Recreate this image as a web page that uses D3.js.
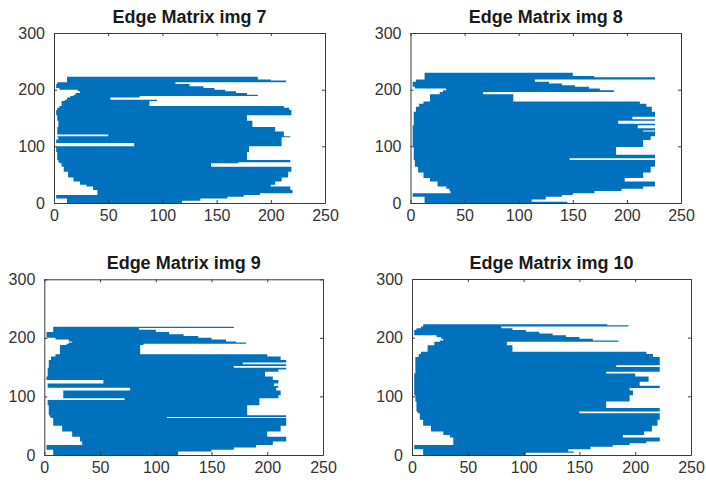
<!DOCTYPE html>
<html>
<head>
<meta charset="utf-8">
<script src="https://cdn.jsdelivr.net/npm/d3@7"></script>
<style>
  html, body { margin: 0; padding: 0; background: #ffffff; }
  svg { display: block; font-family: "Liberation Sans", Arial, Helvetica, sans-serif; }
</style>
</head>
<body>
<svg id="chart" width="706" height="487"></svg>
<script>
// ---------------- DATA ----------------
const titles = ["Edge Matrix img 7", "Edge Matrix img 8", "Edge Matrix img 9", "Edge Matrix img 10"];
const xTicks = [0, 50, 100, 150, 200, 250];
const yTicks = [0, 100, 200, 300];

// Each image: band boundaries (row values, top -> bottom), and the
// left / right edge column of each band (band i spans Y[i]..Y[i+1]).
const img7Y = [223,218,216,213,210,206,203,200,197,194,191,189,186,182,180,171,168,164,155,145,134,126,121,118,116,112,106,100,90,76,72,70,64,55,45,38,32,29,23,17,14,11,8,4,0];
const img7L = [12,12,12,3,2,2,5,22,24,20,18,15,12,10,7,5,3,2,3,4,3,3,50,3,4,2,74,2,3,4,5,7,9,13,18,24,30,36,40,40,2,2,12,12];
const img7R = [188,200,214,112,125,138,148,158,168,178,188,79,52,95,88,212,217,219,178,183,204,212,212,218,210,210,210,180,178,218,170,145,219,216,210,204,200,218,220,190,175,160,135,118];

const img8Y = [230,224,222,218,214,211,208,205,202,199,196,192,179,175,170,161,152,148,145,140,137,132,128,126,118,111,99,85,79,76,74,64,54,44,38,29,25,21,17,14,11,6,2,0];
const img8L = [13,13,13,5,2,2,2,4,33,30,27,18,12,8,5,3,3,3,3,3,2,2,2,2,2,2,3,3,3,4,4,7,12,18,25,33,36,37,2,2,13,13,13];
const img8R = [150,170,226,115,128,140,152,165,175,188,67,95,212,218,223,226,205,226,192,226,210,226,215,226,222,215,190,226,147,226,226,222,215,198,226,215,195,170,150,140,125,112,145];

const img9Y = [219,217,214,210,206,203,200,197,194,192,190,188,172,168,162,158,155,152,149,146,142,134,128,122,118,115,110,102,97,94,85,68,65,63,50,40,31,23,17,13,9,6,0];
const img9L = [8,8,8,2,2,2,10,22,25,22,20,14,10,6,4,4,4,4,3,3,3,2,53,3,3,77,17,17,72,3,4,5,6,8,16,25,32,34,2,2,8,8];
const img9R = [170,85,100,112,125,138,150,163,172,181,89,86,200,212,217,178,217,170,217,210,198,205,210,206,210,208,212,210,193,193,182,217,110,217,212,200,217,205,190,170,150,120];

const img10Y = [223,221,219,216,213,210,207,204,201,198,195,193,187,176,172,167,153,150,147,142,139,134,125,118,114,110,102,91,80,74,71,60,50,40,34,30,23,20,17,14,10,6,4,0];
const img10L = [10,10,8,4,2,2,2,22,26,28,25,20,14,8,6,3,3,3,3,3,2,2,2,2,2,2,3,4,4,5,7,10,17,28,34,37,37,37,2,2,10,10,10];
const img10R = [175,194,80,90,102,114,126,138,150,162,185,85,90,210,216,222,183,222,222,174,200,212,204,222,195,198,195,174,222,150,222,220,215,208,189,222,210,195,180,160,140,145,102];

const seriesY = [img7Y, img8Y, img9Y, img10Y];
const seriesL = [img7L, img8L, img9L, img10L];
const seriesR = [img7R, img8R, img9R, img10R];

// ---------------- LAYOUT ----------------
const boxes = [
  { left: 54,   right: 325, top: 33,    bottom: 203 },
  { left: 410.5,right: 681, top: 33,    bottom: 203 },
  { left: 44.3, right: 323, top: 279.3, bottom: 455 },
  { left: 412,  right: 691, top: 279,   bottom: 455 }
];
const BLUE = "#0072BD";
const AXIS = "#3a3a3a";
const TXT = "#333333";

const svg = d3.select("#chart");

boxes.forEach((b, k) => {
  const x = d3.scaleLinear().domain([0, 250]).range([b.left, b.right]);
  const y = d3.scaleLinear().domain([0, 300]).range([b.bottom, b.top]);
  const g = svg.append("g");

  // bands, merged into one path so no seams appear between rows
  const Y = seriesY[k], L = seriesL[k], R = seriesR[k];
  const bands = L.map((l, i) => ({ hi: Y[i], lo: Y[i + 1], l: l, r: R[i] }));
  const p = d3.path();
  bands.forEach(d => {
    p.rect(x(d.l), y(d.hi), x(d.r) - x(d.l), y(d.lo) - y(d.hi));
  });
  g.append("path")
    .attr("d", p.toString())
    .attr("fill", BLUE)
    .attr("fill-rule", "nonzero");

  // axes (MATLAB style: inward ticks, box)
  const axB = d3.axisBottom(x).tickValues(xTicks).tickSizeInner(-3).tickSizeOuter(0).tickPadding(7);
  const axT = d3.axisTop(x).tickValues(xTicks).tickSizeInner(-3).tickSizeOuter(0).tickFormat("");
  const axL = d3.axisLeft(y).tickValues(yTicks).tickSizeInner(-3).tickSizeOuter(0).tickPadding(9);
  const axR = d3.axisRight(y).tickValues(yTicks).tickSizeInner(-3).tickSizeOuter(0).tickFormat("");

  const gb = g.append("g").attr("transform", `translate(0,${b.bottom})`).call(axB);
  const gt = g.append("g").attr("transform", `translate(0,${b.top})`).call(axT);
  const gl = g.append("g").attr("transform", `translate(${b.left},0)`).call(axL);
  const gr = g.append("g").attr("transform", `translate(${b.right},0)`).call(axR);
  [gb, gt, gl, gr].forEach(a => {
    a.select(".domain").attr("stroke", AXIS).attr("stroke-width", 1);
    a.selectAll(".tick line").attr("stroke", AXIS).attr("stroke-width", 1);
    a.selectAll(".tick text").attr("fill", TXT).attr("font-size", 16)
      .attr("font-family", "'Liberation Sans', Arial, sans-serif");
  });

  // title
  g.append("text")
    .attr("x", (b.left + b.right) / 2)
    .attr("y", b.top - 10)
    .attr("text-anchor", "middle")
    .attr("font-size", 18)
    .attr("font-weight", "bold")
    .attr("fill", "#1a1a1a")
    .text(titles[k]);
});
</script>
</body>
</html>
